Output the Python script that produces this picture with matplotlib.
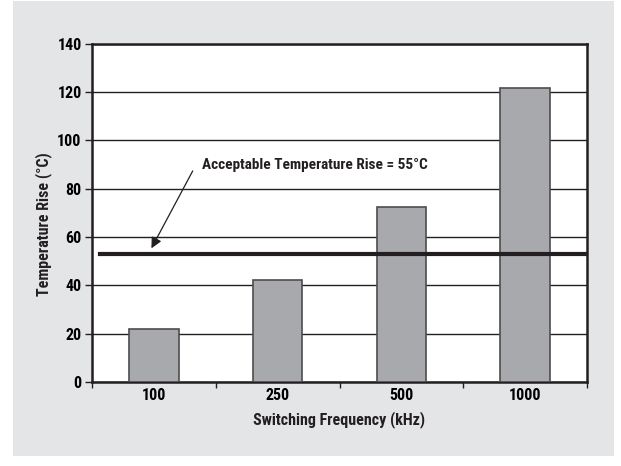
import matplotlib.pyplot as plt
from matplotlib.patches import Rectangle

# Datos
frecuencias = ['100', '250', '500', '1000']
temp_rise = [22.0, 42.0, 72.5, 121.5]
limite = 52.8
texto_limite = 'Acceptable Temperature Rise = 55°C'
y_ticks = [0, 20, 40, 60, 80, 100, 120, 140]

fuente = ['Roboto Condensed', 'DejaVu Sans Condensed', 'Liberation Sans Narrow',
          'Open Sans Condensed', 'DejaVu Sans']
plt.rcParams['font.family'] = fuente
plt.rcParams['font.weight'] = 'bold'
plt.rcParams['font.stretch'] = 'condensed'

fig = plt.figure(figsize=(6.21, 4.66), dpi=100)
fig.patch.set_facecolor('white')

# Fondo gris
fondo = Rectangle((13 / 621, 10 / 466), 601 / 621, 455 / 466,
                  transform=fig.transFigure, facecolor='#e4e5e7',
                  edgecolor='none', zorder=-10)
fig.add_artist(fondo)

ax = fig.add_axes([92 / 621, 84 / 466, 495 / 621, 338.5 / 466])
ax.set_facecolor('white')

x = range(len(frecuencias))
ax.bar(x, temp_rise, width=0.4, color='#a7a9ac', edgecolor='#4d4d4f',
       linewidth=1.2, zorder=3)

# Linea de limite aceptable
ax.axhline(limite, xmin=0.016, xmax=1, color='#231f20', linewidth=3, zorder=4)
ax.annotate('', xy=(-0.02, 55.3), xytext=(0.314, 87.3),
            arrowprops=dict(arrowstyle='-|>', color='#231f20', lw=0.9,
                            mutation_scale=16, shrinkA=0, shrinkB=0), zorder=5)
ax.text(1.30, 89.6, texto_limite, ha='center', va='center', fontsize=11,
        fontweight='bold', color='#231f20')

ax.set_xlim(-0.5, 3.5)
ax.set_ylim(0, 140)
ax.set_yticks(y_ticks)
ax.set_yticklabels([str(v) for v in y_ticks], fontsize=11.5, fontweight='bold')
ax.set_xticks([-0.5, 0.5, 1.5, 2.5, 3.5])
ax.set_xticklabels([])
ax.set_xticks(list(x), minor=True)
ax.set_xticklabels(frecuencias, minor=True, fontsize=11.5, fontweight='bold')
ax.tick_params(axis='x', which='minor', length=0, pad=4)
ax.tick_params(axis='x', which='major', length=4, width=1, color='#231f20')
ax.tick_params(axis='y', length=5, width=1, color='#231f20', pad=2.5)

ax.yaxis.grid(True, color='#231f20', linewidth=1)
ax.set_axisbelow(True)
for s in ax.spines.values():
    s.set_color('#231f20')
    s.set_linewidth(1.8)

ax.set_xlabel('Switching Frequency (kHz)', fontsize=11.5, fontweight='bold',
              labelpad=6, color='#231f20')
ax.set_ylabel('Temperature Rise (°C)', fontsize=11.5, fontweight='bold',
              color='#231f20')
ax.yaxis.set_label_coords(-0.081, 0.467)

plt.savefig('out.png', dpi=100)
